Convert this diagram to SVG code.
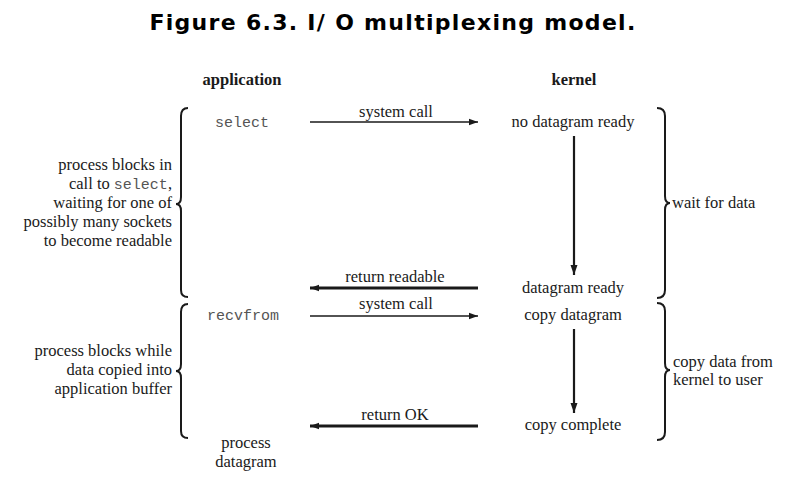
<svg xmlns="http://www.w3.org/2000/svg" width="786" height="480" viewBox="0 0 786 480">
<style>
.t{font-family:"Liberation Serif","Times New Roman",serif;font-size:16.5px;fill:#1a1a1a}
.b{font-weight:bold}
.m{font-family:"Liberation Mono","Courier New",monospace;font-size:15px;fill:#555}
.c{text-anchor:middle}
.e{text-anchor:end}
.title{font-family:"DejaVu Sans",sans-serif;font-weight:bold;font-size:22px;letter-spacing:1.3px;fill:#000}
.br{fill:none;stroke:#1a1a1a;stroke-width:2}
.thin{stroke:#1a1a1a;stroke-width:1.6;fill:none}
.thick{stroke:#1a1a1a;stroke-width:3;fill:none}
.vert{stroke:#1a1a1a;stroke-width:2.2;fill:none}
</style>
<defs>
<marker id="ah" viewBox="0 0 10 10" refX="10" refY="5" markerUnits="userSpaceOnUse" markerWidth="16" markerHeight="9" orient="auto">
<path d="M0,1.5 L10,5 L0,8.5 Z" fill="#1a1a1a"/>
</marker>
<marker id="av" viewBox="0 0 10 10" refX="10" refY="5" markerUnits="userSpaceOnUse" markerWidth="16" markerHeight="10" orient="auto">
<path d="M0,1.5 L10,5 L0,8.5 Z" fill="#1a1a1a"/>
</marker>
</defs>
<rect width="786" height="480" fill="#fff"/>
<text class="title" x="393" y="30" text-anchor="middle">Figure 6.3. I/ O multiplexing model.</text>

<g id="headers">
<text class="t b c" x="242" y="85">application</text>
<text class="t b c" x="574" y="85">kernel</text>
</g>

<g id="app-select"><text class="m c" x="242" y="127">select</text></g>
<g id="app-recvfrom"><text class="m c" x="243" y="320">recvfrom</text></g>
<g id="app-process"><text class="t c" x="246" y="448">process</text><text class="t c" x="246" y="467">datagram</text></g>

<g id="k-nodata"><text class="t c" x="573" y="127">no datagram ready</text></g>
<g id="k-ready"><text class="t c" x="573" y="293">datagram ready</text></g>
<g id="k-copy"><text class="t c" x="573" y="320">copy datagram</text></g>
<g id="k-complete"><text class="t c" x="573" y="430">copy complete</text></g>

<g id="left-brace-1">
<path class="br" d="M188,108 Q181,108 181,116 L181,197 Q181,204 176,204 Q181,204 181,211 L181,290 Q181,297 188,297"/>
<text class="t e" x="172" y="170">process blocks in</text>
<text class="t e" x="172" y="189">call to <tspan class="m">select</tspan>,</text>
<text class="t e" x="172" y="208">waiting for one of</text>
<text class="t e" x="172" y="227">possibly many sockets</text>
<text class="t e" x="172" y="246">to become readable</text>
</g>
<g id="left-brace-2">
<path class="br" d="M188,304 Q181,304 181,312 L181,364 Q181,371 176,371 Q181,371 181,378 L181,431 Q181,438 188,438"/>
<text class="t e" x="172" y="356">process blocks while</text>
<text class="t e" x="172" y="375">data copied into</text>
<text class="t e" x="172" y="394">application buffer</text>
</g>
<g id="right-brace-1">
<path class="br" d="M657,108 Q665,108 665,116 L665,196 Q665,203 670,203 Q665,203 665,210 L665,290 Q665,298 657,298"/>
<text class="t" x="672" y="208">wait for data</text>
</g>
<g id="right-brace-2">
<path class="br" d="M657,303 Q665,303 665,311 L665,363 Q665,370 670,370 Q665,370 665,377 L665,432 Q665,440 657,440"/>
<text class="t" x="673" y="367">copy data from</text>
<text class="t" x="673" y="385">kernel to user</text>
</g>

<g id="connectors">
<line class="thin" x1="310" y1="122" x2="478" y2="122" marker-end="url(#ah)"/>
<text class="t c" x="396" y="117">system call</text>
<line class="vert" x1="574" y1="136" x2="574" y2="275" marker-end="url(#av)"/>
<line class="thick" x1="478" y1="288" x2="310" y2="288" marker-end="url(#ah)"/>
<text class="t c" x="395" y="282">return readable</text>
<line class="thin" x1="310" y1="316" x2="478" y2="316" marker-end="url(#ah)"/>
<text class="t c" x="396" y="309">system call</text>
<line class="vert" x1="574" y1="329" x2="574" y2="413" marker-end="url(#av)"/>
<line class="thick" x1="478" y1="426" x2="310" y2="426" marker-end="url(#ah)"/>
<text class="t c" x="395" y="420">return OK</text>
</g>
</svg>
